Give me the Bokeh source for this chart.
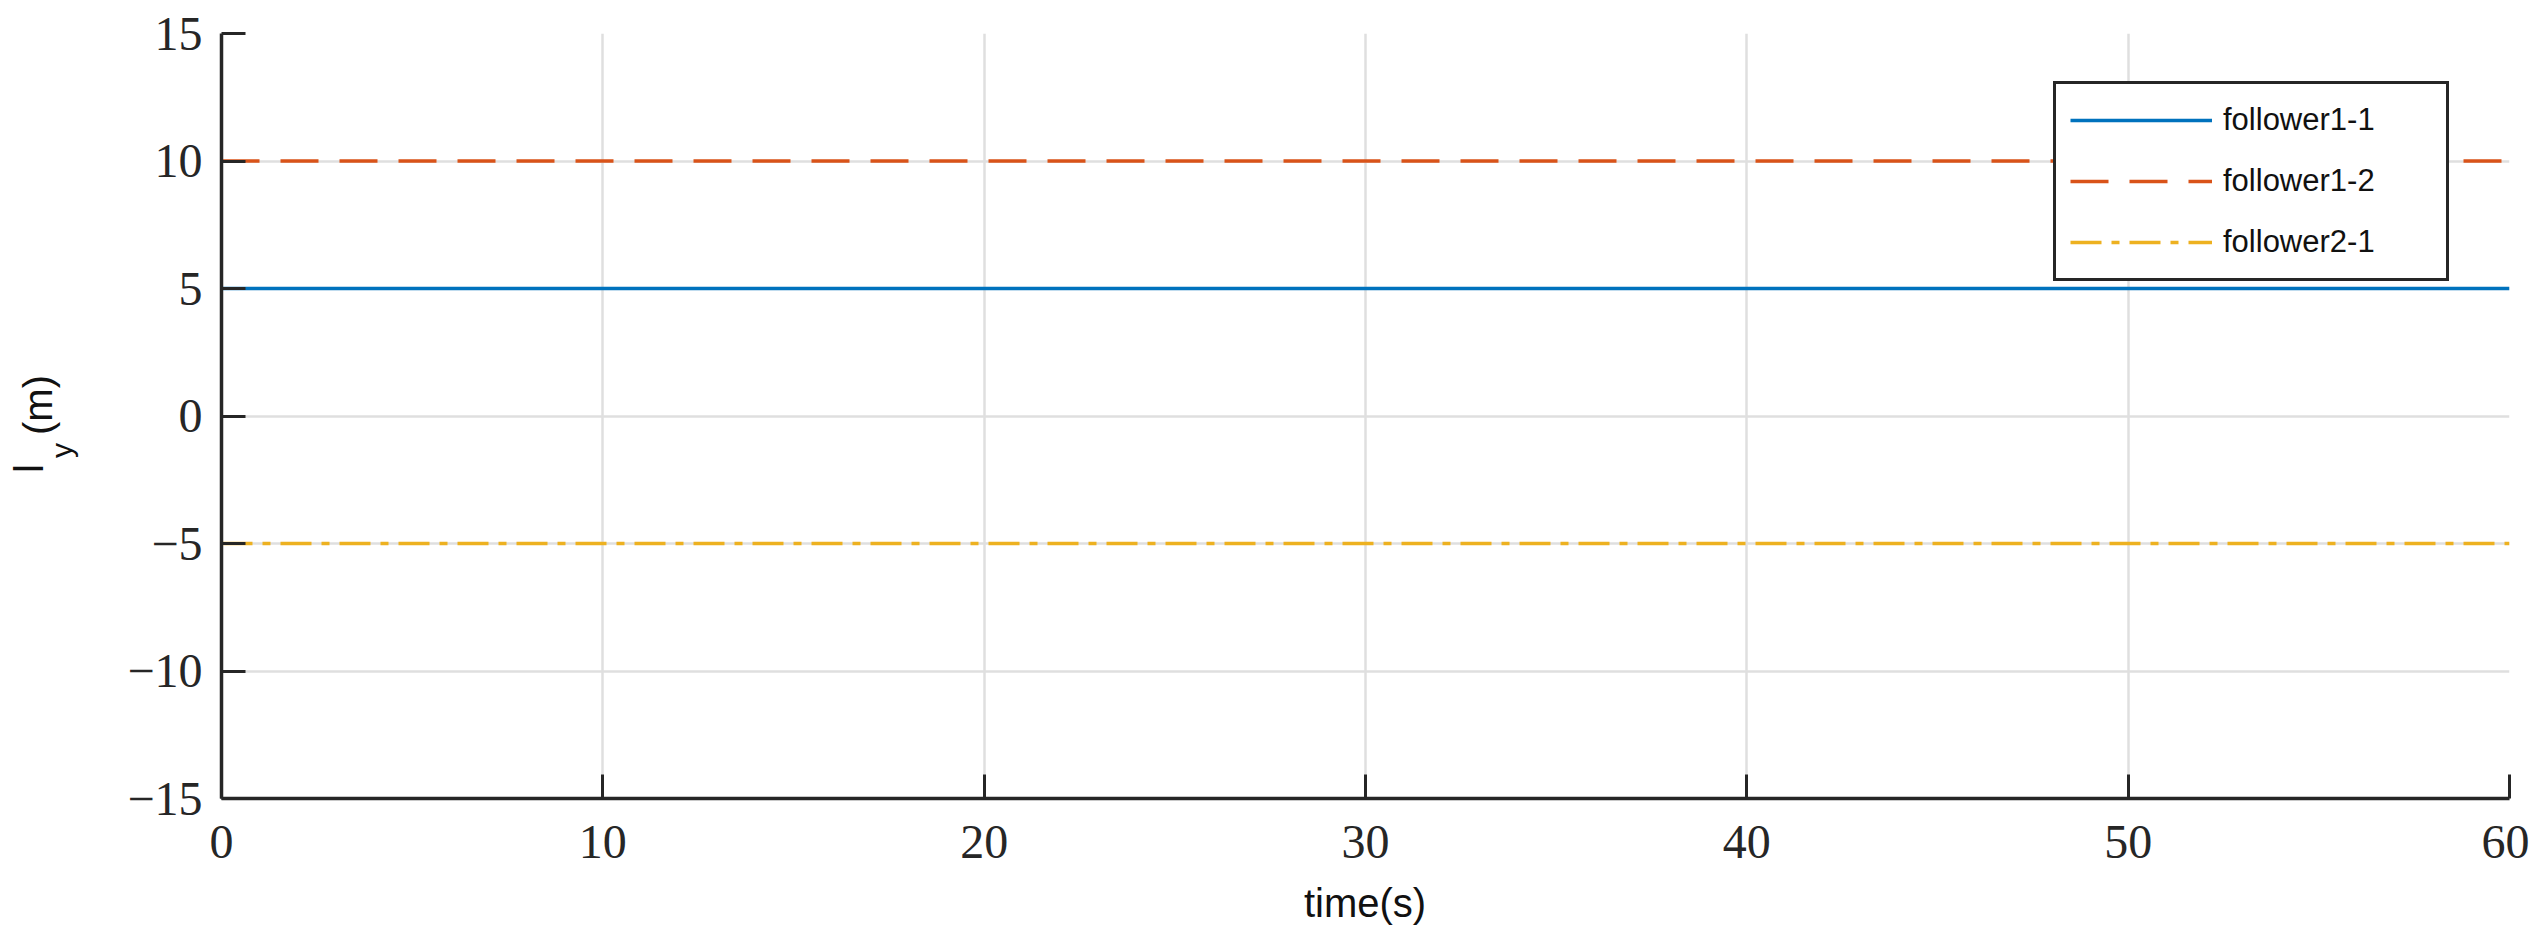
from bokeh.plotting import figure
from bokeh.models import FixedTicker, Legend, LegendItem, Range1d, Div
from bokeh.layouts import row, column
from bokeh.embed import file_html
from bokeh.resources import INLINE

# ---- data ----
time_s = [0, 60]
follower1_1 = [5, 5]
follower1_2 = [10, 10]
follower2_1 = [-5, -5]
series_names = ["follower1-1", "follower1-2", "follower2-1"]
x_ticks = [0, 10, 20, 30, 40, 50, 60]
y_ticks = [-15, -10, -5, 0, 5, 10, 15]
y_label_main, y_label_sub, y_label_unit = "l", "y", "(m)"
x_label = "time(s)"

AX = "#262626"
TOTAL_H = 930
DIV_W = 90
FIG_W = 2439
FIG_H = 885
XLAB_H = TOTAL_H - FIG_H
MB_LEFT = 131
MB_RIGHT = 20
p = figure(width=FIG_W, height=FIG_H, output_backend="svg", toolbar_location=None,
           x_range=Range1d(0, 60), y_range=Range1d(-15, 15),
           min_border_left=MB_LEFT, min_border_right=MB_RIGHT, min_border_top=33, min_border_bottom=87)
p.margin = 0
p.outline_line_color = None
p.background_fill_color = "white"
p.border_fill_color = "white"

r1 = p.line(time_s, follower1_1, line_color="#0072BD", line_width=3.5)
r2 = p.line(time_s, follower1_2, line_color="#D95319", line_width=3.5, line_dash="38 21")
r3 = p.line(time_s, follower2_1, line_color="#EDB120", line_width=3.5, line_dash="31 10 8 10")

for ax in (p.xaxis[0], p.yaxis[0]):
    ax.axis_line_color = AX
    ax.axis_line_width = 3.5
    ax.major_tick_line_color = AX
    ax.major_tick_line_width = 3
    ax.major_tick_in = 24
    ax.major_tick_out = 0
    ax.minor_tick_line_color = None
    ax.major_label_text_font = "Liberation Serif"
    ax.major_label_text_font_size = "48px"
    ax.major_label_text_color = AX

p.xaxis.ticker = FixedTicker(ticks=x_ticks)
p.yaxis.ticker = FixedTicker(ticks=y_ticks)
p.yaxis.major_label_overrides = {v: (("\u2212" + str(-v)) if v < 0 else str(v)) for v in y_ticks}
p.xaxis.major_label_standoff = 27
p.yaxis.major_label_standoff = 19

p.xgrid.ticker = FixedTicker(ticks=x_ticks)
p.ygrid.ticker = FixedTicker(ticks=y_ticks)
for g in (p.xgrid[0], p.ygrid[0]):
    g.grid_line_color = "#dfdfdf"
    g.grid_line_width = 2.5

legend = Legend(items=[LegendItem(label=series_names[0], renderers=[r1]),
                       LegendItem(label=series_names[1], renderers=[r2]),
                       LegendItem(label=series_names[2], renderers=[r3])],
                location=(1832, 517))
legend.border_line_color = AX
legend.border_line_width = 3
legend.border_line_alpha = 1
legend.background_fill_color = "white"
legend.background_fill_alpha = 1
legend.padding = 14
legend.margin = 0
legend.spacing = 17
legend.glyph_width = 142
legend.glyph_height = 44
legend.label_height = 44
legend.label_width = 209
legend.label_standoff = 11
legend.label_text_font = "Liberation Sans"
legend.label_text_font_size = "31px"
legend.label_text_color = "#111111"
p.add_layout(legend)

span = ("position:absolute;white-space:nowrap;line-height:1;color:#111111;"
        "font-family:'Liberation Sans',Arial,sans-serif;")

# rotated y-axis label: l_y (m)
ylab_html = (
    '<div style="position:relative;width:%dpx;height:%dpx;background:white;">'
    '<div style="position:absolute;left:0px;top:480px;width:200px;height:90px;'
    'transform-origin:0 0;transform:rotate(-90deg);">'
    '<span style="%sleft:7px;top:9px;font-size:40px;">%s</span>'
    '<span style="%sleft:22px;top:47px;font-size:30px;">%s</span>'
    '<span style="%sleft:45px;top:18px;font-size:40px;">%s</span>'
    '</div></div>'
) % (DIV_W, TOTAL_H, span, y_label_main, span, y_label_sub, span, y_label_unit)
ylab = Div(text=ylab_html, width=DIV_W, height=TOTAL_H, margin=0)

# x-axis label below the frame, centred on it
frame_center = MB_LEFT + (FIG_W - MB_LEFT - MB_RIGHT) / 2
xlab_html = (
    '<div style="position:relative;width:%dpx;height:%dpx;background:white;">'
    '<span style="%sleft:%.1fpx;top:-2px;font-size:40px;transform:translateX(-50%%);">%s</span>'
    '</div>'
) % (FIG_W, XLAB_H, span, frame_center, x_label)
xlab = Div(text=xlab_html, width=FIG_W, height=XLAB_H, margin=0)

layout = row(ylab, column(p, xlab, margin=0, spacing=0), margin=0, spacing=0)
open("out.html", "w").write(file_html(layout, INLINE))
